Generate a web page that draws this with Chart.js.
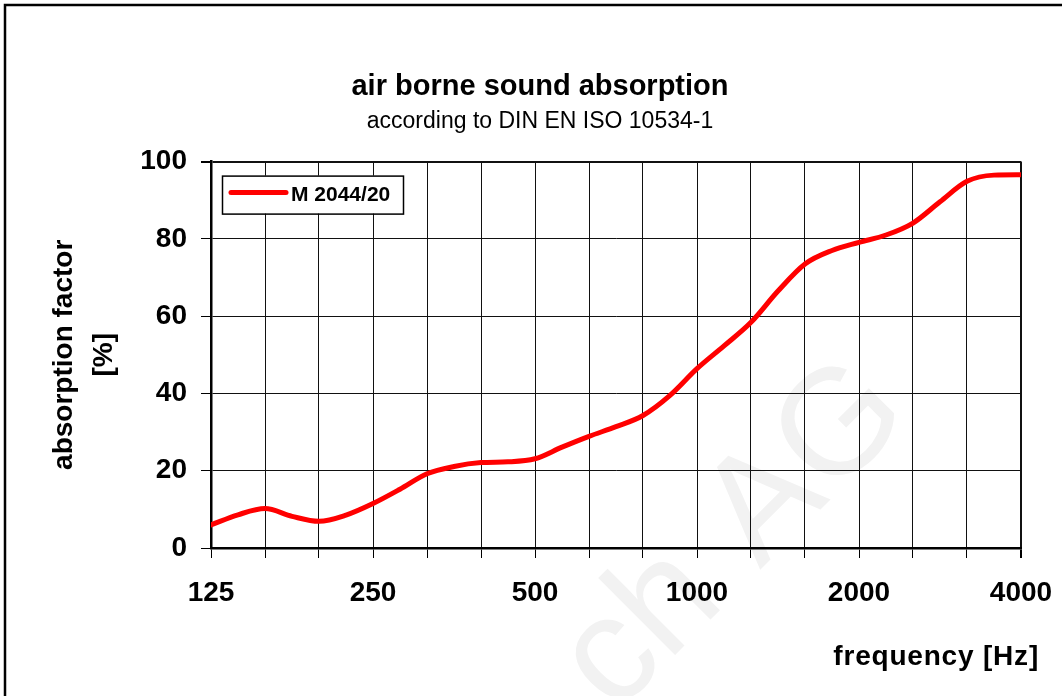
<!DOCTYPE html>
<html lang="en">
<head>
<meta charset="UTF-8">
<title>air borne sound absorption</title>
<script src="https://cdn.jsdelivr.net/npm/chart.js"></script>
<style>
  html, body { margin: 0; padding: 0; background: #fff; }
  #wrap { width: 1062px; height: 696px; position: relative; }
</style>
</head>
<body>
<div id="wrap"><canvas id="absChart"></canvas></div>
<script>
// third-octave band centres (gridlines) and the labels shown under them
const gridHz = [125, 157.5, 198.4, 250, 315, 396.9, 500, 630, 793.7, 1000, 1259.9, 1587.4, 2000, 2519.8, 3174.8, 4000];
const tickLabels = ['125', '', '', '250', '', '', '500', '', '', '1000', '', '', '2000', '', '', '4000'];

const freqHz = [125, 140.3, 157.5, 176.8, 198.4, 222.7, 250, 280.6, 315, 353.6, 396.9, 445.4, 500, 561.2, 630, 707.1,
                793.7, 890.9, 1000, 1122.5, 1259.9, 1414.2, 1587.4, 1781.8, 2000, 2244.9, 2519.8, 2828.4, 3174.8, 3563.6, 4000];
const absorption = [6.0, 8.6, 10.2, 8.2, 6.9, 8.5, 11.5, 15.2, 19.2, 21.1, 22.1, 22.3, 23.1, 26.1, 28.9, 31.4,
                    34.3, 39.5, 46.4, 52.3, 58.4, 66.5, 73.5, 77.0, 79.1, 81.0, 84.1, 89.6, 94.9, 96.5, 96.6];
const seriesName = 'M 2044/20';

const FONT = "'Liberation Sans', Arial, sans-serif";

// frame, watermark, legend box and x title
const decor = {
    id: 'decor',
    beforeDraw(chart) {
        const ctx = chart.ctx;
        ctx.save();
        ctx.fillStyle = '#fff';
        ctx.fillRect(0, 0, chart.width, chart.height);
        // faint watermark
        ctx.translate(760, 570);
        ctx.rotate(-Math.PI / 4);
        ctx.fillStyle = '#f2f2f2';
        ctx.font = '150px ' + FONT;
        ctx.textAlign = 'left';
        ctx.fillText('AG', 0, 0);
        ctx.textAlign = 'right';
        ctx.fillText('ch', -47, 0);
        ctx.restore();
    },
    afterDraw(chart) {
        const ctx = chart.ctx;
        const area = chart.chartArea;
        const ds = chart.data.datasets[0];
        ctx.save();
        // outer frame (runs off the picture on the right and bottom)
        ctx.strokeStyle = '#000';
        ctx.lineWidth = 2.5;
        ctx.strokeRect(5, 5, 2000, 2000);

        // legend
        const lx = area.left + 11, ly = area.top + 14;
        ctx.fillStyle = '#fff';
        ctx.fillRect(lx, ly, 181, 38);
        ctx.lineWidth = 1.5;
        ctx.strokeRect(lx + 0.5, ly + 0.5, 181, 38);
        ctx.strokeStyle = ds.borderColor;
        ctx.lineWidth = 5;
        ctx.lineCap = 'round';
        ctx.beginPath();
        ctx.moveTo(lx + 9, ly + 17);
        ctx.lineTo(lx + 64, ly + 17);
        ctx.stroke();
        ctx.fillStyle = '#000';
        ctx.font = 'bold 21px ' + FONT;
        ctx.textAlign = 'left';
        ctx.textBaseline = 'middle';
        ctx.fillText(ds.label, lx + 69, ly + 20);

        // x axis title, right aligned past the plot edge
        ctx.font = 'bold 28px ' + FONT;
        ctx.letterSpacing = '0.8px';
        ctx.textAlign = 'right';
        ctx.fillText('frequency [Hz]', area.right + 18, 657);
        ctx.restore();
    }
};

const ctx = document.getElementById('absChart').getContext('2d');
const chart = new Chart(ctx, {
    type: 'line',
    data: {
        datasets: [{
            label: seriesName,
            data: freqHz.map((f, i) => ({ x: f, y: absorption[i] })),
            borderColor: '#ff0000',
            borderWidth: 5,
            borderCapStyle: 'round',
            borderJoinStyle: 'round',
            pointRadius: 0,
            cubicInterpolationMode: 'monotone',
            fill: false
        }]
    },
    options: {
        responsive: true,
        maintainAspectRatio: false,
        animation: false,
        layout: { padding: { top: 10, right: 41, bottom: 0, left: 59 } },
        plugins: {
            legend: { display: false },
            tooltip: { enabled: false },
            title: {
                display: true,
                text: 'air borne sound absorption',
                color: '#000',
                font: { family: FONT, size: 29, weight: 'bold' },
                padding: { top: 59.6, bottom: 0 }
            },
            subtitle: {
                display: true,
                text: 'according to DIN EN ISO 10534-1',
                color: '#000',
                font: { family: FONT, size: 23, weight: 'normal' },
                padding: { top: 3, bottom: 26.6 }
            }
        },
        scales: {
            x: {
                type: 'logarithmic',
                min: 125,
                max: 4000,
                afterBuildTicks: scale => { scale.ticks = gridHz.map(v => ({ value: v })); },
                afterFit: scale => {
                    scale.height = 148;
                    scale.paddingLeft = 0;
                    scale.paddingRight = 0;
                },
                border: { display: true, color: '#000', width: 2.5 },
                grid: {
                    color: '#111',
                    lineWidth: c => (c.index === gridHz.length - 1 ? 2 : 1),
                    drawTicks: true,
                    tickLength: 10,
                    tickColor: '#000'
                },
                ticks: {
                    autoSkip: false,
                    maxRotation: 0,
                    padding: 18,
                    color: '#000',
                    font: { family: FONT, size: 28, weight: 'bold' },
                    callback: (value, index) => tickLabels[index]
                },
                title: { display: false }
            },
            y: {
                min: 0,
                max: 100,
                afterFit: scale => { scale.width = 152; },
                border: { display: true, color: '#000', width: 2.5 },
                grid: {
                    color: '#111',
                    lineWidth: c => (c.tick && c.tick.value === 100 ? 2 : 1),
                    drawTicks: true,
                    tickLength: 10,
                    tickColor: '#000'
                },
                ticks: {
                    stepSize: 20,
                    padding: 14,
                    color: '#000',
                    font: { family: FONT, size: 28, weight: 'bold' }
                },
                title: {
                    display: true,
                    text: ['absorption factor', '[%]'],
                    color: '#000',
                    font: { family: FONT, size: 28, weight: 'bold', lineHeight: 1.45 },
                    padding: { top: -15.3, bottom: 0 }
                }
            }
        }
    },
    plugins: [decor]
});
</script>
</body>
</html>
